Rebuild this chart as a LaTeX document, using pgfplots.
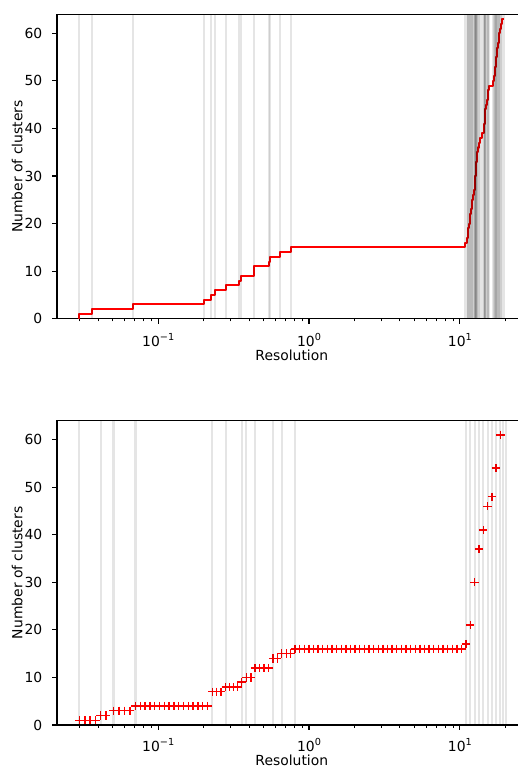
\documentclass[border=0pt]{standalone}
\usepackage{pgfplots}
\pgfplotsset{compat=1.18}
\usepackage{fontspec}
\setmainfont{DejaVu Sans}
\newcommand{\tsz}{\fontsize{13.9bp}{16bp}\selectfont}
\newcommand{\sps}[1]{\raisebox{5.6bp}{\fontsize{9.7bp}{11bp}\selectfont #1}}
\definecolor{mplred}{rgb}{1,0,0}
\begin{document}
\begin{tikzpicture}
% ---------------- top panel ----------------
\begin{axis}[at={(57bp,448.3bp)}, anchor=south west,
    scale only axis, width=469.6bp, height=304.4bp,
    xmode=log, xmin=0.02132, xmax=27.7, ymin=0, ymax=64,
    xtick={0.1,1,10},
    xticklabels={{10\sps{−1}},{10\sps{0}},{10\sps{1}}},
    minor xtick={0.03,0.04,0.05,0.06,0.07,0.08,0.09,0.2,0.3,0.4,0.5,0.6,0.7,0.8,0.9,2,3,4,5,6,7,8,9,20},
    ytick={0,10,20,30,40,50,60},
    tick pos=left, tick align=outside,
    major tick length=4.86bp, minor tick length=2.78bp,
    major tick style={black, line width=1.11bp},
    minor tick style={black, line width=0.83bp},
    axis line style={black, line width=1.11bp},
    /pgf/number format/assume math mode=true,
    tick label style={font=\tsz},
    xticklabel style={inner sep=0pt, anchor=north, yshift=-9.7bp},
    yticklabel style={inner sep=0pt, anchor=east, xshift=-9.7bp},
    xlabel={Resolution}, ylabel={Number of clusters},
    every axis x label/.style={at={(axis description cs:0.5,0)}, yshift=-42bp, anchor=base, font=\tsz, inner sep=0pt},
    every axis y label/.style={at={(axis description cs:0,0.5)}, xshift=-34.7bp, rotate=90, anchor=base, font=\tsz, inner sep=0pt}]
\addplot[const plot, mplred, line width=2.08bp, line join=round, no markers] coordinates {
(0.0300,0) (0.0300,1) (0.0365,2) (0.0677,3) (0.202,4) (0.2247,5) (0.2389,6) (0.280,7)
(0.343,8) (0.352,9) (0.431,11) (0.542,12) (0.551,13) (0.641,14) (0.755,15)
(10.85,16) (11.19,17) (11.29,18) (11.38,19) (11.48,20) (11.62,21) (11.75,22) (11.86,23)
(11.95,24) (12.08,25) (12.20,26) (12.35,27) (12.53,28) (12.60,29) (12.66,30) (12.74,31)
(12.81,32) (12.87,33) (12.95,34) (13.03,35) (13.17,36) (13.31,37) (13.68,38) (14.11,39)
(14.43,40) (14.52,41) (14.59,42) (14.66,43) (14.72,44) (14.95,45) (15.18,46) (15.30,47)
(15.39,48) (15.51,49) (16.69,50) (16.84,51) (17.00,52) (17.13,53) (17.29,54) (17.42,55)
(17.58,56) (17.71,57) (17.88,58) (18.09,59) (18.29,60) (18.52,61) (18.79,62) (19.08,63)
(19.59,63)
};
\addplot[only marks, mark=|, mark size=152.2bp,
    mark options={solid, black, line width=2.08bp, draw opacity=0.1}] coordinates {
(0.0300,32) (0.0365,32) (0.0677,32) (0.202,32) (0.2247,32) (0.2389,32) (0.280,32)
(0.343,32) (0.352,32) (0.431,32) (0.542,32) (0.551,32) (0.641,32) (0.755,32)
(10.85,32) (11.19,32) (11.29,32) (11.38,32) (11.48,32) (11.62,32) (11.75,32) (11.86,32)
(11.95,32) (12.08,32) (12.20,32) (12.35,32) (12.53,32) (12.60,32) (12.66,32) (12.74,32)
(12.81,32) (12.87,32) (12.95,32) (13.03,32) (13.17,32) (13.31,32) (13.68,32) (14.11,32)
(14.43,32) (14.52,32) (14.59,32) (14.66,32) (14.72,32) (14.95,32) (15.18,32) (15.30,32)
(15.39,32) (15.51,32) (16.69,32) (16.84,32) (17.00,32) (17.13,32) (17.29,32) (17.42,32)
(17.58,32) (17.71,32) (17.88,32) (18.09,32) (18.29,32) (18.52,32) (18.79,32) (19.08,32)
(19.59,32)
};
\end{axis}
% ---------------- bottom panel ----------------
\begin{axis}[at={(57bp,42bp)}, anchor=south west,
    scale only axis, width=469.6bp, height=304.4bp,
    xmode=log, xmin=0.02132, xmax=27.7, ymin=0, ymax=64,
    xtick={0.1,1,10},
    xticklabels={{10\sps{−1}},{10\sps{0}},{10\sps{1}}},
    minor xtick={0.03,0.04,0.05,0.06,0.07,0.08,0.09,0.2,0.3,0.4,0.5,0.6,0.7,0.8,0.9,2,3,4,5,6,7,8,9,20},
    ytick={0,10,20,30,40,50,60},
    tick pos=left, tick align=outside,
    major tick length=4.86bp, minor tick length=2.78bp,
    major tick style={black, line width=1.11bp},
    minor tick style={black, line width=0.83bp},
    axis line style={black, line width=1.11bp},
    /pgf/number format/assume math mode=true,
    tick label style={font=\tsz},
    xticklabel style={inner sep=0pt, anchor=north, yshift=-8.7bp},
    yticklabel style={inner sep=0pt, anchor=east, xshift=-9.7bp},
    xlabel={Resolution}, ylabel={Number of clusters},
    every axis x label/.style={at={(axis description cs:0.5,0)}, yshift=-40bp, anchor=base, font=\tsz, inner sep=0pt},
    every axis y label/.style={at={(axis description cs:0,0.5)}, xshift=-34.7bp, rotate=90, anchor=base, font=\tsz, inner sep=0pt}]
\addplot[only marks, mark=+, mark size=4.17bp, mark options={mplred, line width=1.39bp}] coordinates {
(0.0300,1) (0.0326,1) (0.0353,1) (0.0383,1) (0.0415,2) (0.0450,2)
(0.0505,3) (0.0549,3) (0.0597,3) (0.0650,3)
(0.0707,4) (0.0761,4) (0.0819,4) (0.0881,4) (0.0948,4) (0.1020,4) (0.1097,4) (0.1181,4)
(0.1270,4) (0.1367,4) (0.1471,4) (0.1583,4) (0.1703,4) (0.1832,4) (0.1972,4) (0.2121,4)
(0.2282,7) (0.2444,7) (0.2615,7)
(0.2800,8) (0.2977,8) (0.3164,8) (0.3363,8) (0.3574,9) (0.3846,10) (0.4118,10)
(0.4380,12) (0.4691,12) (0.5023,12) (0.5382,12) (0.5764,14) (0.6154,14)
(0.6582,15) (0.7063,15) (0.7551,15)
(0.8063,16) (0.8653,16) (0.9287,16) (0.9966,16) (1.0696,16) (1.1479,16) (1.2319,16)
(1.3221,16) (1.4189,16) (1.5227,16) (1.6342,16) (1.7538,16) (1.8822,16) (2.0200,16)
(2.1678,16) (2.3265,16) (2.4968,16) (2.6796,16) (2.8758,16) (3.0863,16) (3.3122,16)
(3.5546,16) (3.8148,16) (4.0941,16) (4.3937,16) (4.7154,16) (5.0605,16) (5.4310,16)
(5.8285,16) (6.2552,16) (6.7130,16) (7.2044,16) (7.7318,16) (8.2978,16) (8.9052,16)
(9.5571,16) (10.2568,16)
(10.97,17) (11.71,21) (12.53,30) (13.38,37) (14.28,41) (15.28,46) (16.31,48)
(17.39,54) (18.57,61)
};
\addplot[only marks, mark=|, mark size=152.2bp,
    mark options={solid, black, line width=2.08bp, draw opacity=0.1}] coordinates {
(0.0300,32) (0.0415,32) (0.0505,32) (0.0707,32) (0.2282,32) (0.2800,32) (0.3574,32)
(0.3846,32) (0.4380,32) (0.5764,32) (0.6582,32) (0.8063,32)
(10.97,32) (11.71,32) (12.53,32) (13.38,32) (14.28,32) (15.28,32) (16.31,32)
(17.39,32) (18.57,32) (19.41,32) (20.3,32)
};
\end{axis}
\pgfresetboundingbox
\path[use as bounding box] (0,0) rectangle (518bp,767bp);
\end{tikzpicture}
\end{document}
